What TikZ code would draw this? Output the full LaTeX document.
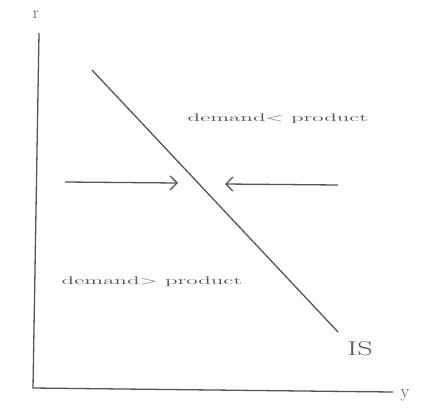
\documentclass[tikz,border=0pt]{standalone}
\usetikzlibrary{arrows.meta}
\definecolor{ink}{HTML}{555555}
\begin{document}
\begin{tikzpicture}[x=1pt,y=-1pt,
  pen/.style={draw=ink,line width=1.3pt},
  arr/.style={pen,-{Straight Barb[length=7pt,width=14pt]}},
  lbl/.style={text=ink,font=\fontsize{11}{13}\selectfont,inner sep=0pt},
  wide/.style={lbl,xscale=2.1,transform shape}]
\useasboundingbox (0,0) rectangle (422,410);
\coordinate (ytop) at (39,33);
\coordinate (orig) at (33,388);
\coordinate (xend) at (393,392);
\draw[pen] (ytop) -- (orig) -- (xend);
\node[lbl,font=\fontsize{17}{19}\selectfont] (r) at (36,15) {r};
\node[lbl,font=\fontsize{18}{20}\selectfont] (y) at (405,395) {y};
\coordinate (is1) at (92,70);
\coordinate (is2) at (338,332);
\draw[pen] (is1) -- (is2);
\node[lbl,font=\fontsize{20}{22}\selectfont,xscale=1.5,transform shape] (IS) at (360,349) {IS};
\coordinate (la) at (65,182);
\coordinate (lb) at (178,183);
\coordinate (ra) at (338,185);
\coordinate (rb) at (225,184);
\draw[arr] (la) -- (lb);
\draw[arr] (ra) -- (rb);
\node[wide] (up) at (278,119) {demand$<$ product};
\node[wide] (down) at (152,282) {demand$>$ product};
\end{tikzpicture}
\end{document}
